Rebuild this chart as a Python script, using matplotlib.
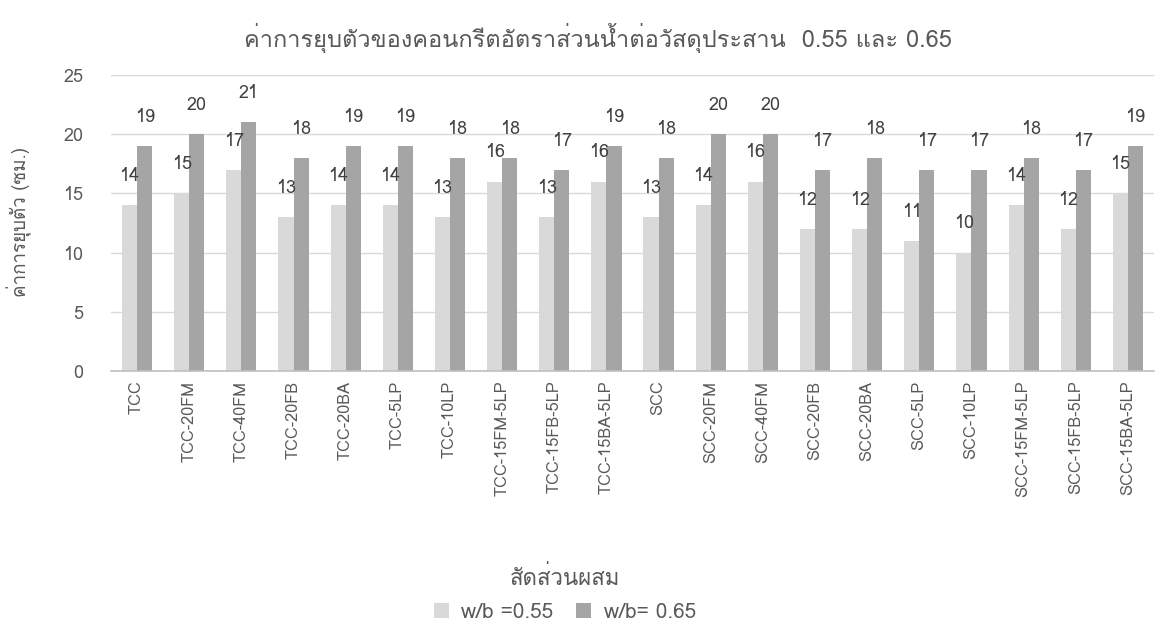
import numpy as np
import matplotlib
matplotlib.use("Agg")
import matplotlib.pyplot as plt
from matplotlib import font_manager
from matplotlib.ft2font import FT2Font


def thai_font():
    # first installed family that has Thai glyphs
    for f in font_manager.fontManager.ttflist:
        try:
            if 0x0E01 in FT2Font(f.fname).get_charmap():
                return f.name
        except Exception:
            pass
    return "DejaVu Sans"


th = thai_font()
plt.rcParams["font.family"] = [th, "DejaVu Sans"]

## data
mixes = ["TCC", "TCC-20FM", "TCC-40FM", "TCC-20FB", "TCC-20BA", "TCC-5LP",
         "TCC-10LP", "TCC-15FM-5LP", "TCC-15FB-5LP", "TCC-15BA-5LP", "SCC",
         "SCC-20FM", "SCC-40FM", "SCC-20FB", "SCC-20BA", "SCC-5LP", "SCC-10LP",
         "SCC-15FM-5LP", "SCC-15FB-5LP", "SCC-15BA-5LP"]
wb055 = [14, 15, 17, 13, 14, 14, 13, 16, 13, 16, 13, 14, 16, 12, 12, 11, 10, 14, 12, 15]
wb065 = [19, 20, 21, 18, 19, 19, 18, 18, 17, 19, 18, 20, 20, 17, 18, 17, 17, 18, 17, 19]
series_names = ["w/b =0.55", "w/b= 0.65"]
yticks = [0, 5, 10, 15, 20, 25]

title = "ค่าการยุบตัวของคอนกรีตอัตราส่วนน้ำต่อวัสดุประสาน  0.55 และ 0.65"
ylab = "ค่าการยุบตัว (ซม.)"
xlab = "สัดส่วนผสม"

txt = "#595959"
fig = plt.figure(figsize=(11.55, 6.3), dpi=100)
ax = fig.add_axes([111 / 1155, 1 - 371 / 630, 1043 / 1155, 296 / 630])

x = np.arange(len(mixes))
w = 0.29
b1 = ax.bar(x - w / 2, wb055, w, color="#d9d9d9", label=series_names[0], zorder=2)
b2 = ax.bar(x + w / 2, wb065, w, color="#a5a5a5", label=series_names[1], zorder=2)

for bars in (b1, b2):
    for r in bars:
        ax.annotate(f"{r.get_height():g}", (r.get_x() + r.get_width() / 2, r.get_height()),
                    xytext=(0, 21), textcoords="offset points", ha="center", va="center",
                    fontsize=13, color="#404040")

ax.set_xlim(-0.5, len(mixes) - 0.5)
ax.set_ylim(0, 25)
ax.set_yticks(yticks)
ax.set_xticks(x)
ax.set_xticklabels(mixes, rotation=90, fontsize=11.8, color=txt)
ax.tick_params(axis="y", length=0, pad=20, labelsize=13, labelcolor=txt)
ax.tick_params(axis="x", length=0, pad=7)
ax.grid(axis="y", color="#d9d9d9", linewidth=1, zorder=0)
for s in ["top", "right", "left"]:
    ax.spines[s].set_visible(False)
ax.spines["bottom"].set_color("#bfbfbf")
ax.spines["bottom"].set_linewidth(1.2)
ax.spines["bottom"].set_zorder(3)

fig.text(598 / 1155, 1 - 38 / 630, title, ha="center", va="center", fontsize=17, color=txt)
fig.text(19 / 1155, 1 - 222 / 630, ylab, ha="center", va="center", rotation=90,
         fontsize=13.5, color=txt)
fig.text(565 / 1155, 1 - 578 / 630, xlab, ha="center", va="center", fontsize=16, color=txt)
fig.legend(handles=[b1, b2], loc="center", bbox_to_anchor=(565 / 1155, 1 - 612 / 630),
           ncol=2, frameon=False, fontsize=15, labelcolor=txt, handlelength=0.7,
           handleheight=0.7, columnspacing=1.1, handletextpad=0.6)

fig.savefig("out.png", dpi=100)
